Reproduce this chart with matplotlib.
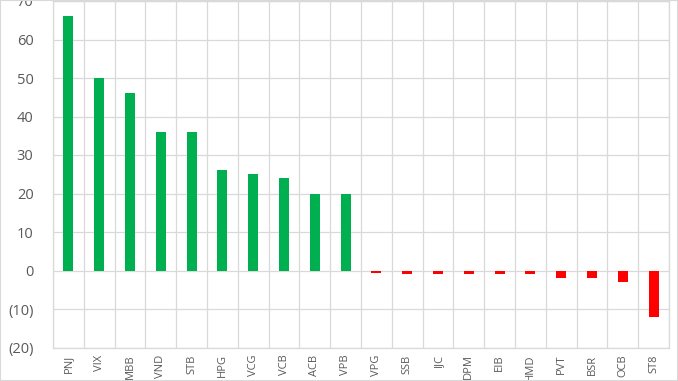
import matplotlib
matplotlib.use("Agg")
import matplotlib.pyplot as plt
from matplotlib.ticker import FuncFormatter, MultipleLocator
from matplotlib.patches import Rectangle

categories = ["PNJ", "VIX", "MBB", "VND", "STB", "HPG", "VCG", "VCB", "ACB", "VPB",
              "VPG", "SSB", "IJC", "DPM", "EIB", "HMD", "PVT", "BSR", "OCB", "ST8"]
values = [66, 50, 46, 36, 36, 26, 25, 24, 20, 20,
          -0.6, -1, -1, -1, -1, -1, -2, -2, -3, -12]

W, H = 678, 381
fig = plt.figure(figsize=(W / 100, H / 100), dpi=100)
plt.rcParams['font.family'] = ['Open Sans', 'DejaVu Sans']

left, right, top, bottom = 53, 669, 1, 347.5
ax = fig.add_axes([left / W, 1 - bottom / H, (right - left) / W, (bottom - top) / H])

x = list(range(len(categories)))
colors = ['#00B050' if v >= 0 else '#FF0000' for v in values]
ax.bar(x, values, width=0.33, color=colors, zorder=3)

ax.set_xlim(-0.5, len(categories) - 0.5)
ax.set_ylim(-20, 70)
ax.yaxis.set_major_locator(MultipleLocator(10))
ax.yaxis.set_major_formatter(FuncFormatter(lambda v, p: f"({abs(int(v))})" if v < 0 else f"{int(v)}"))

ax.set_xticks(x)
ax.set_xticklabels(categories, rotation=90, fontsize=8, color='#595959')
ax.set_xticks([i + 0.5 for i in range(-1, len(categories))], minor=True)
ax.tick_params(axis='x', which='major', length=0, pad=5)
ax.tick_params(axis='x', which='minor', length=0)
ax.tick_params(axis='y', length=0, pad=14, labelsize=10.5, labelcolor='#595959')

ax.grid(True, axis='y', color='#D9D9D9', linewidth=0.9, zorder=0)
ax.grid(True, axis='x', which='minor', color='#D9D9D9', linewidth=0.9, zorder=0)
for s in ax.spines.values():
    s.set_color('#D9D9D9')
    s.set_linewidth(0.9)

fig.patches.append(Rectangle((0, 0), 1, 1, transform=fig.transFigure, fill=False,
                             edgecolor='#D9D9D9', linewidth=1.5))

fig.savefig("out.png", dpi=100)
